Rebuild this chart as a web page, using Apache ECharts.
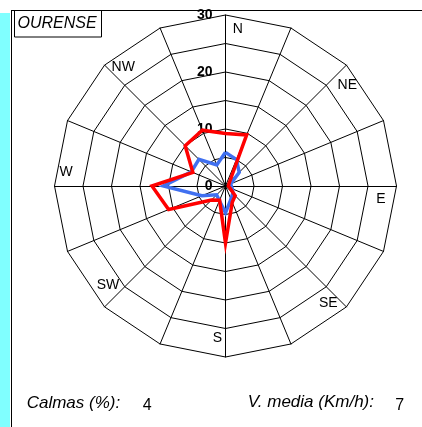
<!DOCTYPE html>
<html><head><meta charset="utf-8">
<script src="https://cdn.jsdelivr.net/npm/echarts@6/dist/echarts.min.js"></script>
<style>html,body{margin:0;padding:0;background:#fff}#c{width:422px;height:427px}</style>
</head><body><div id="c"></div>
<script>
// ---- data ----
const directions = ['N','NNE','NE','ENE','E','ESE','SE','SSE','S','SSW','SW','WSW','W','WNW','NW','NNW'];
const shownDirections = ['N','NE','E','SE','S','SW','W','NW'];
const redValues  = [9.2, 9.7, 1.0, 0.6, 0.5, 0.8, 2.4, 3.1, 10.0, 2.7, 3.5, 10.8, 12.9, 6.2, 10.0, 10.6];
const blueValues = [5.9, 5.0, 3.4, 1.0, 1.0, 1.3, 1.8, 2.5, 4.7, 2.8, 2.2, 4.5, 10.9, 6.5, 6.6, 4.0];
const tickLabels = ['0','10','20','30'];
const axisMin = 0, axisMax = 30, axisSplits = 6;
const stationName = 'OURENSE';
const calmasLabel = 'Calmas (%):', calmasValue = '4';
const speedLabel = 'V. media (Km/h):', speedValue = '7';

// ---- layout ----
const CX = 225.5, CY = 186, R = 171;
const FONT = 'Arial, "Liberation Sans", sans-serif';
const dirLabelOffsets = {N:[12.2,13.7], NE:[0.9,20.2], E:[-15.7,12.7], SE:[-18.2,-3.6],
  S:[-8.2,-19], SW:[3.4,-21.4], W:[11.7,-13.8], NW:[18.7,1.6]};

// ECharts radar runs counter-clockwise from the top: reorder compass data
const n = directions.length;
const ccw = i => (n - i) % n;
const indicators = directions.map((_, i) => {
  const ind = {name: directions[ccw(i)], min: axisMin, max: axisMax};
  if (i === 0) ind.axisLabel = {show: true};
  return ind;
});
const toRadar = arr => arr.map((_, i) => arr[ccw(i)]);

const graphics = [
  {type:'rect', shape:{x:0,y:13,width:10,height:414}, style:{fill:'#80ffff'}, silent:true},
  {type:'line', shape:{x1:11.5,y1:10,x2:11.5,y2:427}, style:{stroke:'#000',lineWidth:1}},
  {type:'line', shape:{x1:11,y1:10.5,x2:422,y2:10.5}, style:{stroke:'#000',lineWidth:1}},
  {type:'rect', shape:{x:14.5,y:10.5,width:87,height:26.5}, style:{fill:'none',stroke:'#000',lineWidth:1}},
  {type:'text', x:17.5, y:23.5, style:{text:stationName, font:'italic 16px '+FONT, fill:'#000', align:'left', verticalAlign:'middle'}},
  {type:'text', x:26.7, y:402.8, style:{text:calmasLabel, font:'italic 17px '+FONT, fill:'#000', align:'left', verticalAlign:'middle'}},
  {type:'text', x:142.7, y:405.6, style:{text:calmasValue, font:'16px '+FONT, fill:'#000', align:'left', verticalAlign:'middle'}},
  {type:'text', x:247.7, y:402.2, style:{text:speedLabel, font:'italic 17px '+FONT, fill:'#000', align:'left', verticalAlign:'middle'}},
  {type:'text', x:395.3, y:405.6, style:{text:speedValue, font:'16px '+FONT, fill:'#000', align:'left', verticalAlign:'middle'}}
];
shownDirections.forEach(d => {
  const k = directions.indexOf(d);
  const a = k * 2 * Math.PI / n;
  const off = dirLabelOffsets[d];
  graphics.push({type:'text', x: CX + R*Math.sin(a) + off[0], y: CY - R*Math.cos(a) + off[1],
    style:{text:d, font:'14px '+FONT, fill:'#000', align:'center', verticalAlign:'middle'}});
});

const chart = echarts.init(document.getElementById('c'), null, {renderer:'canvas'});
chart.setOption({
  animation: false,
  backgroundColor: '#fff',
  radar: {
    center: [CX, CY], radius: R, startAngle: 90, shape: 'polygon',
    splitNumber: axisSplits, indicator: indicators,
    axisName: {show: false},
    splitArea: {show: false},
    splitLine: {lineStyle: {color: '#000', width: 1}},
    axisLine: {lineStyle: {color: '#000', width: 1}},
    axisTick: {show: false},
    axisLabel: {show: false, margin: 13, color: '#000', fontWeight: 'bold', fontSize: 14, fontFamily: FONT,
      showMinLabel: true, showMaxLabel: true,
      formatter: v => tickLabels.includes(String(v)) ? String(v) : ''}
  },
  series: [
    {type:'radar', z: 2, symbol:'none', data:[{value: toRadar(blueValues), lineStyle:{color:'#4070f0', width:3.5, join:'miter'}}]},
    {type:'radar', z: 3, symbol:'none', data:[{value: toRadar(redValues), lineStyle:{color:'#ff0000', width:3.5, join:'miter'}}]}
  ],
  graphic: graphics
});
</script></body></html>
